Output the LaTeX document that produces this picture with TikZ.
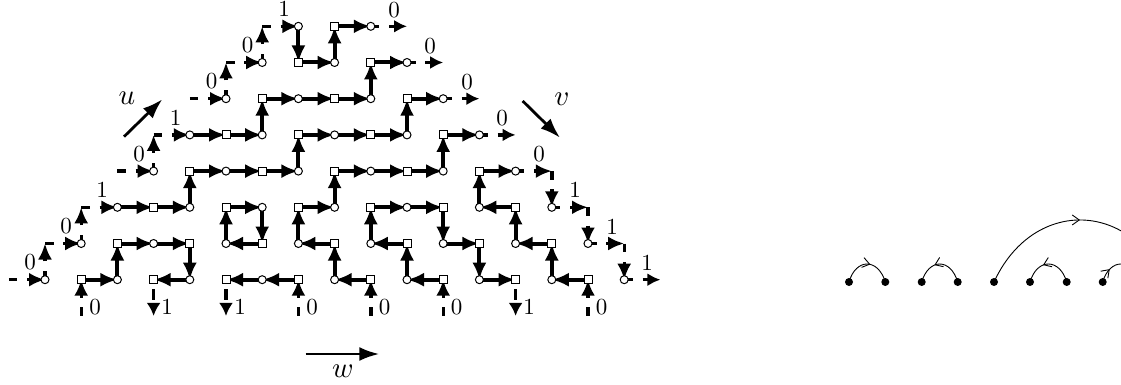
\documentclass[tikz,border=0pt]{standalone}
\usetikzlibrary{arrows.meta,decorations.markings}
\pgfdeclarelayer{edgelayer}
\pgfsetlayers{edgelayer,main}
\tikzset{
  nd0/.style={circle,draw=black,fill=white,line width=1pt,inner sep=0pt,minimum size=8pt},
  nd1/.style={rectangle,draw=black,fill=white,line width=1pt,inner sep=0pt,minimum size=8pt},
  solidedge/.style={line width=4pt,-{Latex[length=17pt,width=14pt]}},
  dashedge/.style={line width=3.4pt,dash pattern=on 8.5pt off 9.8pt on 40pt,-{Latex[length=16pt,width=14pt]}},
  outedge/.style={line width=3.4pt,dash pattern=on 8.5pt off 9.8pt on 40pt,-{Latex[length=13pt,width=13pt]}},
  downedge/.style={line width=3.4pt,dash pattern=on 0pt off 9.6pt on 10.7pt off 3pt on 40pt,-{Latex[length=13pt,width=14pt]}},
  bigarrow/.style={line width=2.8pt,-{Latex[length=20pt,width=14pt]}},
  digit/.style={inner sep=0pt,scale=2.3},
  dirlabel/.style={inner sep=0pt,scale=2.9},
  dotnode/.style={circle,fill=black,inner sep=0pt,minimum size=8pt},
  arcedge/.style={line width=0.9pt,postaction={decorate},decoration={markings,mark=at position #1 with {\arrow{Straight Barb[length=7pt,width=10pt,line width=0.9pt]}}}}
}
\begin{document}
\begin{tikzpicture}[x=1pt,y=-1pt]
\useasboundingbox (0,0) rectangle (1121,385);
% grid nodes
\foreach \j in {0,...,7}{
  \pgfmathtruncatemacro\last{16-\j}
  \foreach \i in {\j,...,\last}{
    \pgfmathtruncatemacro\p{mod(\i+\j,2)}
    \node[nd\p] (n\i-\j) at ({45+36.2*\i},{279.7-36.2*\j}) {};
  }
}
% corners and free ends
\foreach \i/\j in {0/1,1/2,3/4,5/6,6/7,14/3,15/2,16/1,-1/0,2/3,4/5,10/7,11/6,12/5,13/4,17/0,1/-1,3/-1,5/-1,7/-1,9/-1,11/-1,13/-1,15/-1}
  \coordinate (c\i-\j) at ({45+36.2*\i},{279.7-36.2*\j});
\begin{pgfonlayer}{edgelayer}
\foreach \a/\b in {2-2/3-2,3-2/4-2,4-2/4-3,4-3/5-3,5-3/6-3,6-3/7-3,7-3/7-4,7-4/8-4,8-4/9-4,9-4/10-4,10-4/10-5,10-5/11-5,
  4-4/5-4,5-4/6-4,6-4/6-5,6-5/7-5,7-5/8-5,8-5/9-5,9-5/9-6,9-6/10-6,
  7-7/7-6,7-6/8-6,8-6/8-7,8-7/9-7,
  1-0/2-0,2-0/2-1,2-1/3-1,3-1/4-1,4-1/4-0,4-0/3-0,
  5-2/6-2,6-2/6-1,6-1/5-1,5-1/5-2,
  7-0/6-0,6-0/5-0,
  9-0/8-0,8-0/8-1,8-1/7-1,7-1/7-2,7-2/8-2,8-2/8-3,8-3/9-3,9-3/10-3,10-3/11-3,11-3/11-4,11-4/12-4,
  11-0/10-0,10-0/10-1,10-1/9-1,9-1/9-2,9-2/10-2,10-2/11-2,11-2/11-1,11-1/12-1,12-1/12-0,12-0/13-0,
  15-0/14-0,14-0/14-1,14-1/13-1,13-1/13-2,13-2/12-2,12-2/12-3,12-3/13-3}
  \draw[solidedge] (n\a.center) -- (n\b.center);
% dashed boundary edges, node to corner
\foreach \a/\b in {0-0/0-1,1-1/1-2,3-3/3-4,5-5/5-6,6-6/6-7,13-3/14-3,14-2/15-2,15-1/16-1}
  \draw[dashedge] (n\a.center) -- (c\b);
% dashed boundary edges, corner or free end to node
\foreach \a/\b in {-1-0/0-0,0-1/1-1,1-2/2-2,2-3/3-3,3-4/4-4,4-5/5-5,5-6/6-6,6-7/7-7,14-3/14-2,15-2/15-1,16-1/16-0,1--1/1-0,7--1/7-0,9--1/9-0,11--1/11-0,15--1/15-0}
  \draw[dashedge] (c\a) -- (n\b.center);
% outputs
\foreach \a/\b in {9-7/10-7,10-6/11-6,11-5/12-5,12-4/13-4,16-0/17-0}
  \draw[outedge] (n\a.center) -- (c\b);
\foreach \a/\b in {3-0/3--1,5-0/5--1,13-0/13--1}
  \draw[downedge] (n\a.center) -- (c\b);
\end{pgfonlayer}
% digit labels
\node[digit] (l1) at (30,262) {0};
\node[digit] (l2) at (66,226) {0};
\node[digit] (l3) at (102,190) {1};
\node[digit] (l4) at (139,154) {0};
\node[digit] (l5) at (175.7,118) {1};
\node[digit] (l6) at (211.7,81) {0};
\node[digit] (l7) at (247.7,45) {0};
\node[digit] (l8) at (284,9) {1};
\node[digit] (l9) at (394,10) {0};
\node[digit] (l10) at (430,46) {0};
\node[digit] (l11) at (467,82) {0};
\node[digit] (l12) at (502,118) {0};
\node[digit] (l13) at (539,154) {0};
\node[digit] (l14) at (575,190) {1};
\node[digit] (l15) at (612,227) {1};
\node[digit] (l16) at (647,263) {1};
\node[digit] (b1) at (95,307) {0};
\node[digit] (b2) at (167,307) {1};
\node[digit] (b3) at (240,307) {1};
\node[digit] (b4) at (312,307) {0};
\node[digit] (b5) at (384.7,307) {0};
\node[digit] (b6) at (456.7,307) {0};
\node[digit] (b7) at (529,307) {1};
\node[digit] (b8) at (601.7,307) {0};
% direction arrows
\coordinate (us) at (124,136.7); \coordinate (ue) at (162.3,99.3);
\coordinate (vs) at (522.7,101); \coordinate (ve) at (560,137.7);
\coordinate (ws) at (305.7,354); \coordinate (we) at (379.3,354);
\draw[bigarrow] (us) -- (ue);
\draw[bigarrow] (vs) -- (ve);
\draw[bigarrow] (ws) -- (we);
\node[dirlabel] (lu) at (127,98) {$u$};
\node[dirlabel] (lv) at (562,99) {$v$};
\node[dirlabel] (lw) at (343,371) {$w$};
% right part: points and arcs
\foreach \n/\x in {1/849,2/885.3,3/921.7,4/957.7,5/994,6/1030,7/1066.7,8/1102.7}
  \node[dotnode] (d\n) at (\x,282) {};
\coordinate (e5) at (1166,282);
\coordinate (e8) at (1139,282);
\begin{scope}
\clip (0,0) rectangle (1121,385);
\draw[arcedge=0.56] (d1.center) .. controls (856,258) and (878,258) .. (d2.center);
\draw[arcedge=0.6] (d4.center) .. controls (950.7,258) and (928.7,258) .. (d3.center);
\draw[arcedge=0.5] (d5.center) .. controls (1032,199.3) and (1128,199.3) .. (e5);
\draw[arcedge=0.6] (d7.center) .. controls (1059.7,258) and (1037,258) .. (d6.center);
\draw[arcedge=0.27] (d8.center) .. controls (1109.7,258) and (1132,258) .. (e8);
\end{scope}
\end{tikzpicture}
\end{document}
